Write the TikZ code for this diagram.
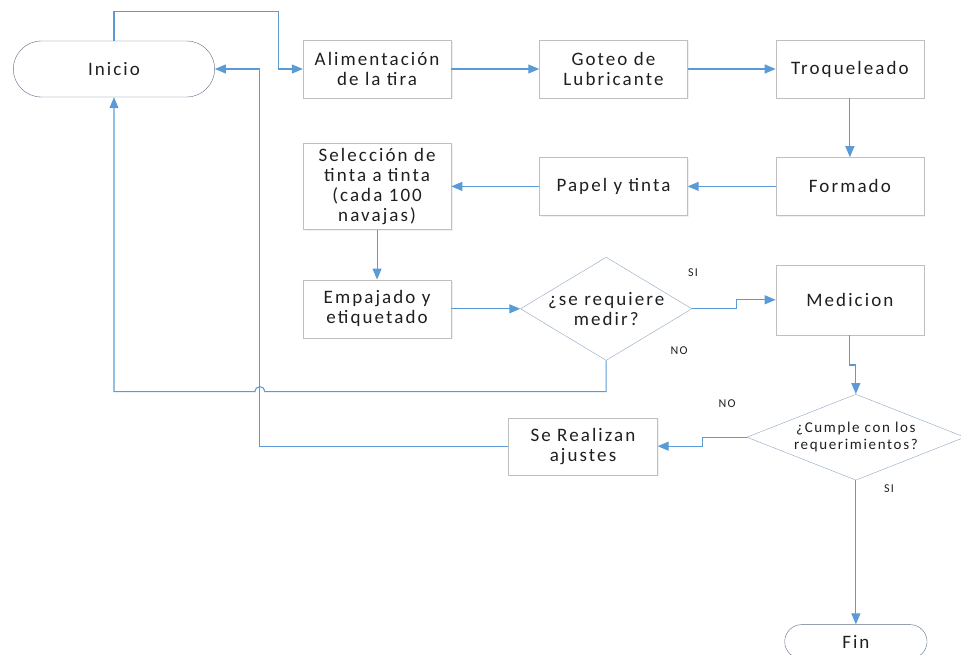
\documentclass[tikz,border=0pt]{standalone}
\usepackage{fontspec}
\setmainfont{Carlito}[LetterSpace=11]
\usepackage{xcolor}
\usetikzlibrary{shapes,arrows.meta,positioning,shadows}

\definecolor{flow}{HTML}{5B9BD5}
\definecolor{boxline}{HTML}{BFBFBF}
\definecolor{decline}{HTML}{8EA6C2}
\definecolor{termline}{HTML}{5A6D82}
\definecolor{ink}{HTML}{1F1F1F}

\begin{document}
\begin{tikzpicture}[
    x=1pt, y=-1pt,
    node distance=88pt,
    box/.style={rectangle, draw=boxline, fill=white, text=ink, minimum width=148pt, minimum height=58pt, align=center,
        font=\fontsize{19}{20}\selectfont, drop shadow={opacity=0.12, shadow xshift=1.5pt, shadow yshift=-1.5pt}},
    term/.style={rounded rectangle, draw=termline, text=ink, font=\fontsize{19}{20}\selectfont},
    decision/.style={diamond, draw=decline, fill=white, text=ink, inner sep=0pt, align=center},
    flowline/.style={draw=flow, line width=1.1pt, -{Triangle[length=11pt,width=9pt]}},
    lbl/.style={text=ink, font=\fontsize{12}{13}\selectfont}
]
    \useasboundingbox (0,0) rectangle (961,655);

    % Start
    \node[term, minimum width=208pt, minimum height=56pt] (inicio) at (114,69) {Inicio};

    % Top row
    \node[box, right=of inicio] (alim) {Alimentación\\de la tira};
    \node[box, right=of alim] (goteo) {Goteo de\\Lubricante};
    \node[box, right=of goteo] (troq) {Troqueleado};

    % Second row
    \node[box, below=59pt of troq] (formado) {Formado};
    \node[box, left=of formado] (papel) {Papel y tinta};
    \node[box, left=of papel, minimum height=86pt] (selec) {Selección de\\tinta a tinta\\(cada 100\\navajas)};

    % Packing and first check
    \node[box, below=50pt of selec] (empaq) {Empajado y\\etiquetado};
    \node[decision, right=69pt of empaq, minimum width=168pt, minimum height=101pt, shape aspect=1.66,
        font=\fontsize{19}{20}\selectfont] (medir) {¿se requiere\\medir?};
    \node[box, below=49pt of formado, minimum height=70pt] (medicion) {Medicion};

    % Second check
    \node[decision, below=59pt of medicion, xshift=6pt, minimum width=218pt, minimum height=86pt, shape aspect=2.5,
        font=\fontsize{15}{16.5}\selectfont] (cumple) {¿Cumple con los\\requerimientos?};
    \node[box, left=89pt of cumple, yshift=-9pt, minimum width=149pt, minimum height=57pt] (ajustes) {Se Realizan\\ajustes};
    \node[term, below=144pt of cumple, minimum width=149pt, minimum height=34pt, inner ysep=2pt] (fin) {Fin};

    % Branch labels
    \node[lbl] (si1) at (693,273) {SI};
    \node[lbl] (no1) at (679,351) {NO};
    \node[lbl] (no2) at (727,404) {NO};
    \node[lbl] (si2) at (889,489) {SI};

    % Connections
    \coordinate (bus) at ([xshift=45pt]inicio.east);
    \coordinate (c1) at ([yshift=-31pt]medir.south);
    \coordinate (hop) at (bus |- c1);
    \draw[flowline] (inicio.north) -- ++(0,-29) -| ([xshift=-24pt]alim.west) -- (alim.west);
    \draw[flowline] (alim) -- (goteo);
    \draw[flowline] (goteo) -- (troq);
    \draw[flowline] (troq) -- (formado);
    \draw[flowline] (formado) -- (papel);
    \draw[flowline] (papel) -- (selec);
    \draw[flowline] (selec) -- (empaq);
    \draw[flowline] (empaq) -- (medir);
    \draw[flowline] (medir.east) -- ++(44,0) |- (medicion.west);
    \draw[flowline] (medicion.south) -- ++(0,30) -| (cumple.north);
    \draw[flowline] (cumple.west) -- ++(-44,0) |- (ajustes.east);
    \draw[flowline] (cumple.south) -- (fin.north);
    \draw[flowline] (ajustes.west) -| (bus) -- (inicio.east);
    \draw[flowline] (medir.south) -- (c1) -- ([xshift=5pt]hop) arc[start angle=0, end angle=-180, radius=5]
        -- (inicio.south |- c1) -- (inicio.south);
\end{tikzpicture}
\end{document}
